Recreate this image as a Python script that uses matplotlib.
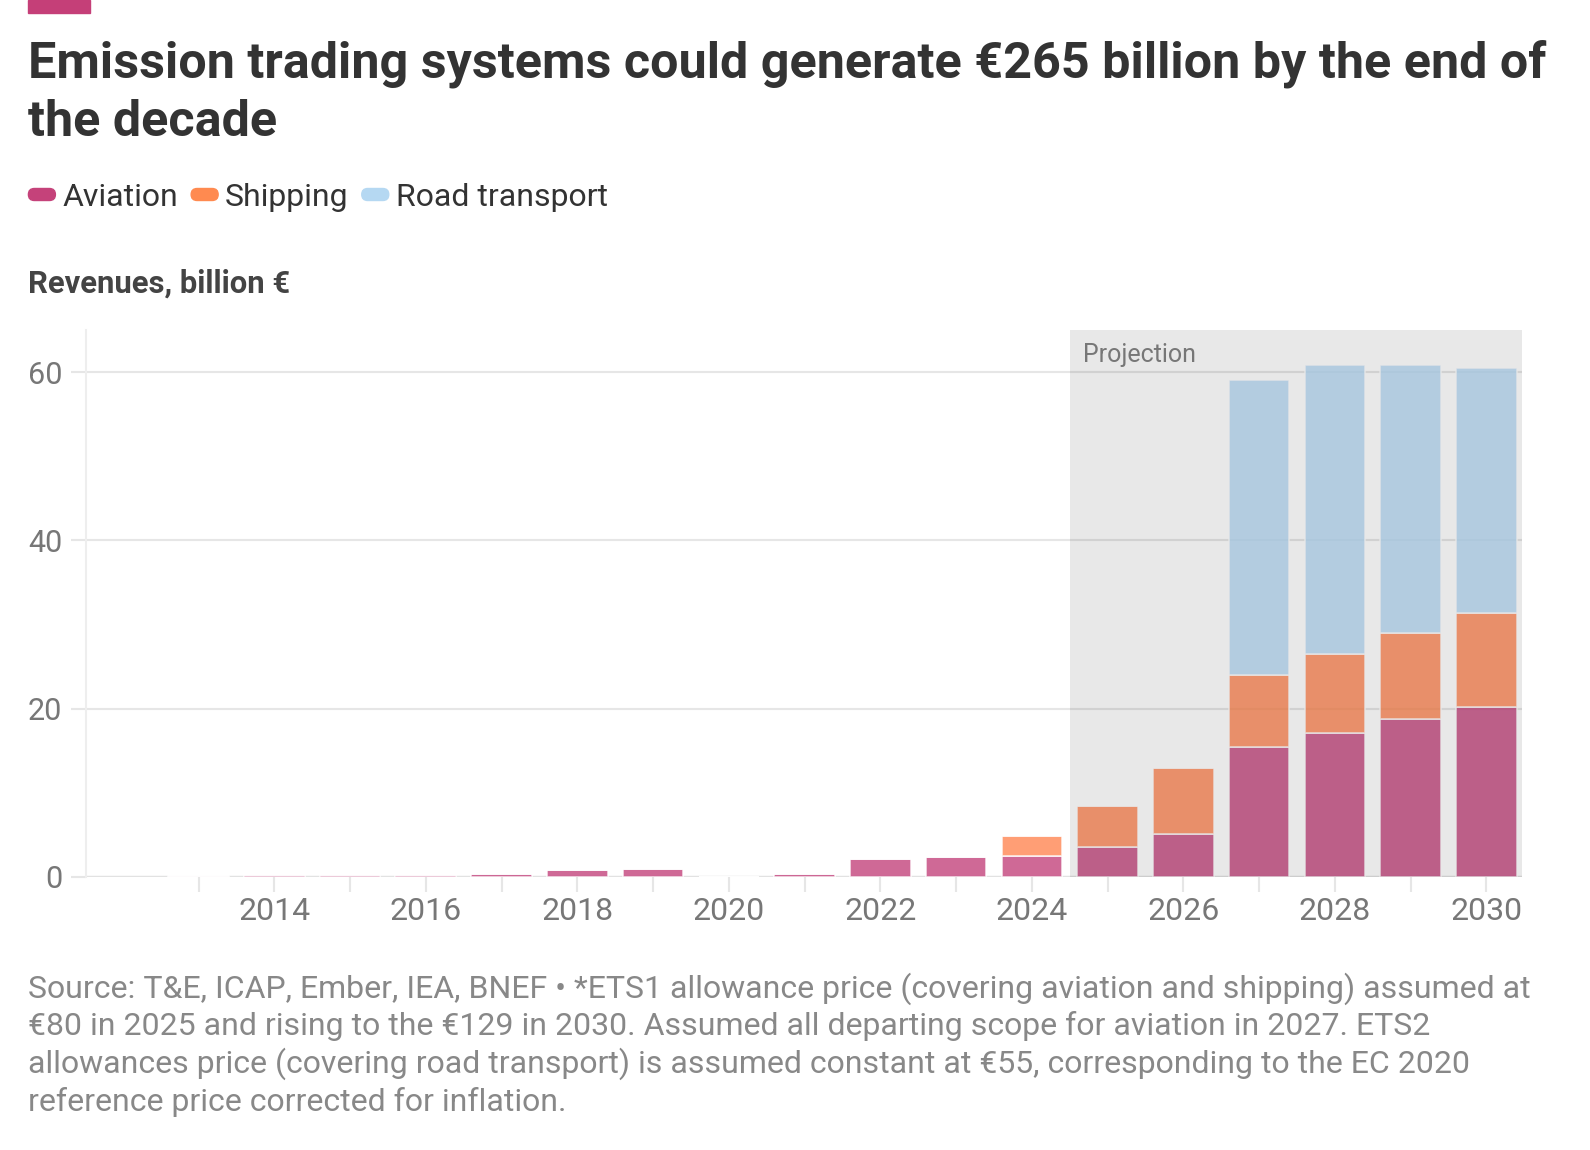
import numpy as np
import matplotlib
matplotlib.use("Agg")
import matplotlib.pyplot as plt
from matplotlib.patches import Rectangle, FancyBboxPatch
from matplotlib.transforms import IdentityTransform

plt.rcParams['font.family'] = ['Roboto', 'DejaVu Sans']

# data (billion euro)
years = list(range(2013, 2031))
aviation = [0.12, 0.22, 0.28, 0.24, 0.36, 0.78, 0.95, 0.0, 0.36, 2.1, 2.35, 2.55,
            3.55, 5.1, 15.4, 17.1, 18.8, 20.2]
shipping = [0, 0, 0, 0, 0, 0, 0, 0, 0, 0, 0, 2.3, 4.9, 7.8, 8.6, 9.4, 10.2, 11.2]
road = [0, 0, 0, 0, 0, 0, 0, 0, 0, 0, 0, 0, 0, 0, 35.0, 34.4, 31.8, 29.1]
tick_years = list(range(2014, 2031, 2))
yticks = [0, 20, 40, 60]

title_lines = ["Emission trading systems could generate \u20ac265 billion by the end of",
               "the decade"]
ylabel = "Revenues, billion \u20ac"
source_lines = [
    "Source: T&E, ICAP, Ember, IEA, BNEF \u2022 *ETS1 allowance price (covering aviation and shipping) assumed at",
    "\u20ac80 in 2025 and rising to the \u20ac129 in 2030. Assumed all departing scope for aviation in 2027. ETS2",
    "allowances price (covering road transport) is assumed constant at \u20ac55, corresponding to the EC 2020",
    "reference price corrected for inflation.",
]
legend_items = [("Aviation", '#c5427a'), ("Shipping", '#ff8a50'), ("Road transport", '#b5d8f2')]

c_av, c_sh, c_rd = '#c3437c', '#ff8652', '#b7daf6'

W, H = 1590, 1150
fig = plt.figure(figsize=(W / 100, H / 100), dpi=100)

def fx(x):
    return x / W

def fy(y):
    return 1 - y / H

ax = fig.add_axes([fx(86), fy(877), fx(1522) - fx(86), fy(330) - fy(877)])
ax.set_xlim(2011.515, 2030.47)
ax.set_ylim(0, 65)

av = np.array(aviation)
sh = np.array(shipping)
rd = np.array(road)
kw = dict(width=0.8, alpha=0.8, edgecolor='white', linewidth=1.2, zorder=3)
ax.bar(years, av, color=c_av, **kw)
ax.bar(years, sh, bottom=av, color=c_sh, **kw)
ax.bar(years, rd, bottom=av + sh, color=c_rd, **kw)

# projection shading (overlay on top of the bars)
ax.axvspan(2024.5, 2030.47, color='black', alpha=0.09, lw=0, zorder=4)
ax.text(2024.5 + 13 / 75.75, 61.2, "Projection", color='#777777', fontsize=18,
        va='baseline', ha='left', zorder=5)

for v in yticks[1:]:
    ax.axhline(v, color='#e6e6e6', lw=1.5, zorder=1)
ax.axhline(0, color='#e2e2e2', lw=2.5, zorder=2)

for s in ['top', 'right', 'bottom']:
    ax.spines[s].set_visible(False)
ax.spines['left'].set_color('#eeeeee')
ax.spines['left'].set_linewidth(1.5)

ax.set_xticks(years)
ax.set_xticklabels([str(y) if y in tick_years else '' for y in years])
ax.tick_params(axis='x', length=11, width=1.5, color='#e6e6e6', labelsize=23,
               labelcolor='#777777', pad=3.5)
ax.set_yticks(yticks)
ax.tick_params(axis='y', length=11, width=1.5, color='#e6e6e6', labelsize=22,
               labelcolor='#777777', pad=6)

# top accent bar
fig.patches.append(Rectangle((fx(28), fy(13)), fx(90) - fx(28), fy(0) - fy(13),
                             transform=fig.transFigure, color='#c53f78'))

for i, line in enumerate(title_lines):
    fig.text(fx(28), fy(77 + i * 59), line, fontsize=36.2, fontweight='bold',
             color='#333333', va='baseline', ha='left')

# legend (pill markers drawn in pixel coordinates)
lx = 28.4
for name, col in legend_items:
    fig.patches.append(FancyBboxPatch((lx, H - 200.5), 27, 12,
                                      boxstyle='round,pad=0,rounding_size=6',
                                      transform=IdentityTransform(), color=col))
    t = fig.text(fx(lx + 34), fy(205.5), name, fontsize=23.0, color='#333333',
                 va='baseline', ha='left')
    fig.canvas.draw()
    bb = t.get_window_extent()
    lx = bb.x1 + 13

fig.text(fx(28), fy(292.5), ylabel, fontsize=22.3, fontweight='bold', color='#444444',
         va='baseline', ha='left')

for i, line in enumerate(source_lines):
    fig.text(fx(28), fy(997.5 + i * 37.8), line, fontsize=23.0, color='#888888',
             va='baseline', ha='left')

fig.savefig('out.png', dpi=100)
